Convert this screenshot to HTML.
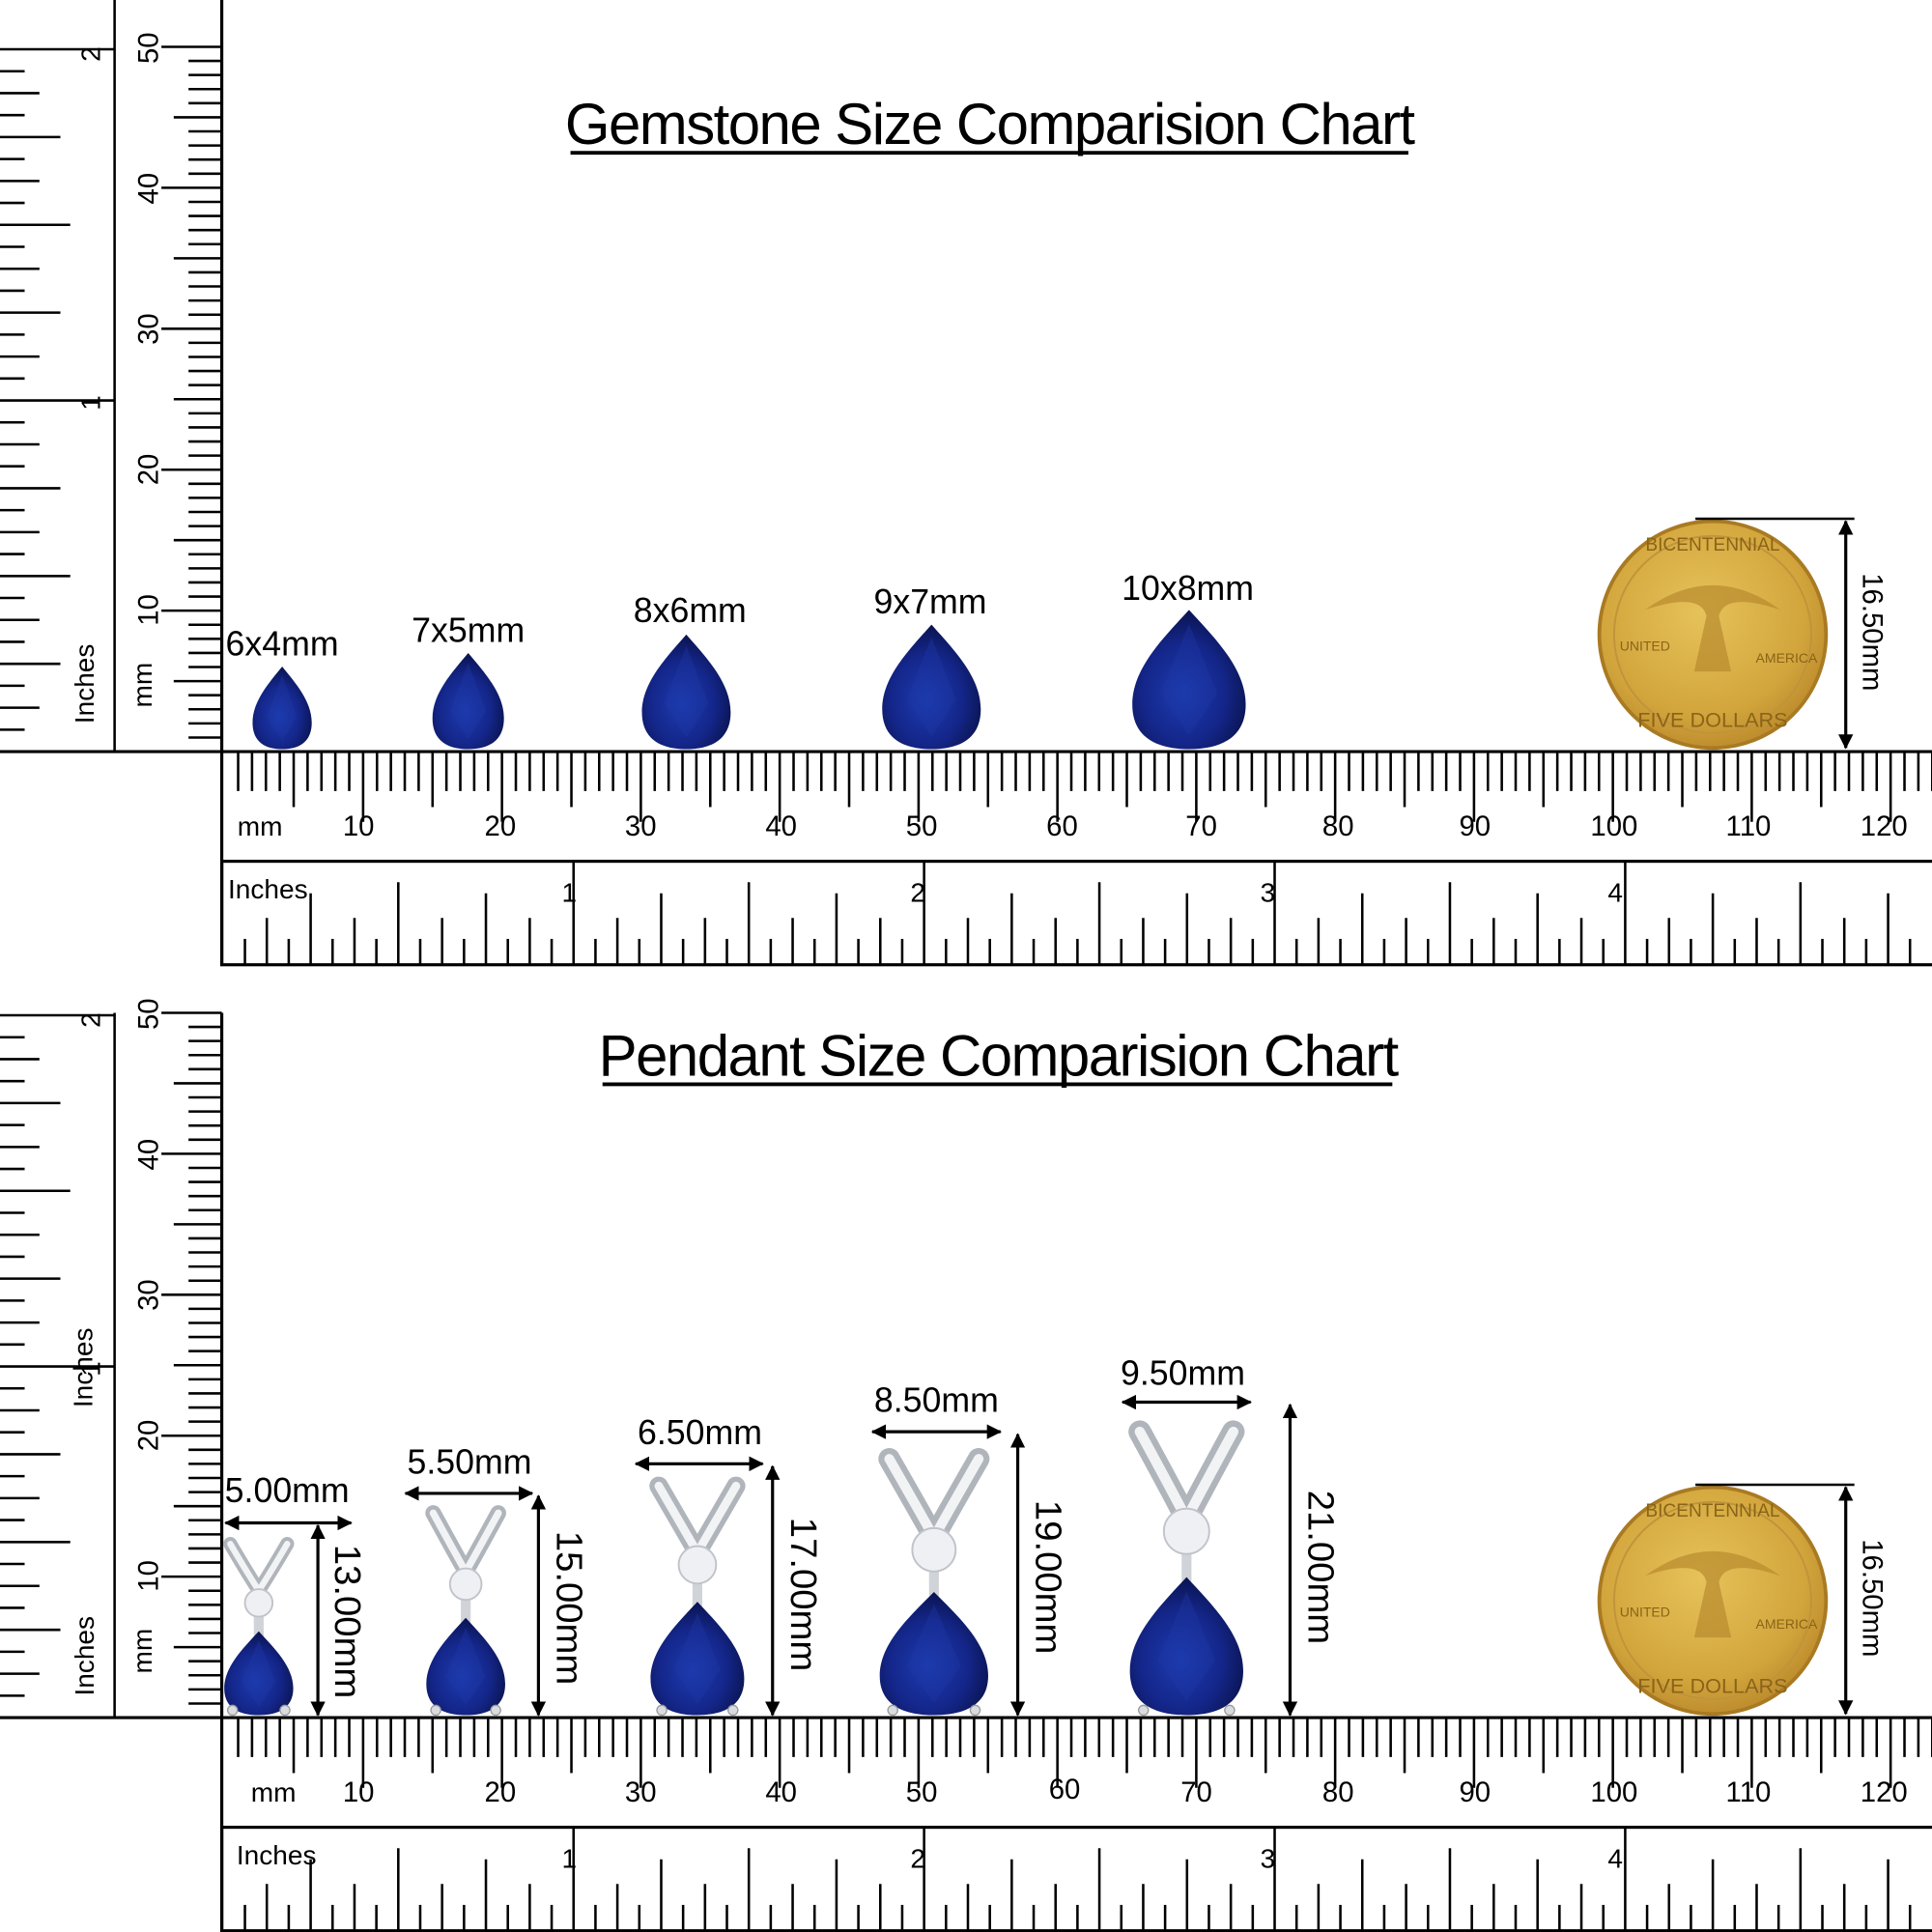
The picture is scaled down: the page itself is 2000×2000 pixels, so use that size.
<!DOCTYPE html>
<html><head><meta charset="utf-8"><style>
html,body{margin:0;padding:0;background:#fff;}
svg{display:block;}
text{font-family:"Liberation Sans",Arial,sans-serif;fill:#000;}
</style></head><body>
<svg id="s" width="2000" height="2000" viewBox="0 0 1568 1568" xmlns="http://www.w3.org/2000/svg">
<defs>
<radialGradient id="gem" cx="0.45" cy="0.6" r="0.6">
<stop offset="0" stop-color="#1c3cb0"/><stop offset="0.6" stop-color="#14268a"/><stop offset="1" stop-color="#0a1450"/>
</radialGradient>
<radialGradient id="gold" cx="0.45" cy="0.4" r="0.65">
<stop offset="0" stop-color="#e6c25a"/><stop offset="0.7" stop-color="#d2a53c"/><stop offset="1" stop-color="#b8862a"/>
</radialGradient>
<linearGradient id="silver" x1="0" x2="1"><stop offset="0" stop-color="#c8ccd2"/><stop offset="0.5" stop-color="#f4f5f7"/><stop offset="1" stop-color="#b4b8be"/></linearGradient>
<marker id="ah" markerWidth="12" markerHeight="12" refX="11" refY="6" orient="auto-start-reverse" markerUnits="userSpaceOnUse"><path d="M0,0 L12,6 L0,12 z" fill="#000"/></marker>
</defs>
<g id="g"></g>
<text x="803" y="117" font-size="47" text-anchor="middle" letter-spacing="-1.2">Gemstone Size Comparision Chart</text>
<line x1="463" y1="124" x2="1143" y2="124" stroke="#000" stroke-width="3"/>
<text x="229" y="532" font-size="28" text-anchor="middle">6x4mm</text>
<text x="380" y="521" font-size="28" text-anchor="middle">7x5mm</text>
<text x="560" y="505" font-size="28" text-anchor="middle">8x6mm</text>
<text x="755" y="498" font-size="28" text-anchor="middle">9x7mm</text>
<text x="964" y="487" font-size="28" text-anchor="middle">10x8mm</text>
<text x="810" y="873" font-size="47" text-anchor="middle" letter-spacing="-1.2">Pendant Size Comparision Chart</text>
<line x1="489" y1="880" x2="1130" y2="880" stroke="#000" stroke-width="3"/>
<text x="233" y="1219" font-size="28" text-anchor="middle">5.00mm</text>
<text x="381" y="1196" font-size="28" text-anchor="middle">5.50mm</text>
<text x="568" y="1172" font-size="28" text-anchor="middle">6.50mm</text>
<text x="760" y="1146" font-size="28" text-anchor="middle">8.50mm</text>
<text x="960" y="1124" font-size="28" text-anchor="middle">9.50mm</text>
<text font-size="30" transform="translate(272,1316) rotate(90)" text-anchor="middle">13.00mm</text>
<text font-size="30" transform="translate(452,1305) rotate(90)" text-anchor="middle">15.00mm</text>
<text font-size="30" transform="translate(642,1294) rotate(90)" text-anchor="middle">17.00mm</text>
<text font-size="30" transform="translate(841,1280) rotate(90)" text-anchor="middle">19.00mm</text>
<text font-size="30" transform="translate(1062,1272) rotate(90)" text-anchor="middle">21.00mm</text>
<text font-size="23" transform="translate(1512,513) rotate(90)" text-anchor="middle">16.50mm</text>
<text font-size="23" transform="translate(1512,1297) rotate(90)" text-anchor="middle">16.50mm</text>
<text font-size="22" transform="translate(75,1110) rotate(-90)" text-anchor="middle">Inches</text>
<g>
<text x="211" y="678" font-size="22" text-anchor="middle">mm</text>
<text x="291" y="678" font-size="23" text-anchor="middle">10</text>
<text x="406" y="678" font-size="23" text-anchor="middle">20</text>
<text x="520" y="678" font-size="23" text-anchor="middle">30</text>
<text x="634" y="678" font-size="23" text-anchor="middle">40</text>
<text x="748" y="678" font-size="23" text-anchor="middle">50</text>
<text x="862" y="678" font-size="23" text-anchor="middle">60</text>
<text x="975" y="678" font-size="23" text-anchor="middle">70</text>
<text x="1086" y="678" font-size="23" text-anchor="middle">80</text>
<text x="1197" y="678" font-size="23" text-anchor="middle">90</text>
<text x="1310" y="678" font-size="23" text-anchor="middle">100</text>
<text x="1419" y="678" font-size="23" text-anchor="middle">110</text>
<text x="1529" y="678" font-size="23" text-anchor="middle">120</text>
<text x="185" y="729" font-size="22">Inches</text>
<text x="462" y="732" font-size="22" text-anchor="middle">1</text>
<text x="745" y="732" font-size="22" text-anchor="middle">2</text>
<text x="1029" y="732" font-size="22" text-anchor="middle">3</text>
<text x="1311" y="732" font-size="22" text-anchor="middle">4</text>
<text font-size="23" transform="translate(128,495) rotate(-90)" text-anchor="middle">10</text>
<text font-size="23" transform="translate(128,381) rotate(-90)" text-anchor="middle">20</text>
<text font-size="23" transform="translate(128,267) rotate(-90)" text-anchor="middle">30</text>
<text font-size="23" transform="translate(128,153) rotate(-90)" text-anchor="middle">40</text>
<text font-size="23" transform="translate(128,39) rotate(-90)" text-anchor="middle">50</text>
<text font-size="22" transform="translate(123,556) rotate(-90)" text-anchor="middle">mm</text>
<text font-size="22" transform="translate(76,555) rotate(-90)" text-anchor="middle">Inches</text>
<text font-size="22" transform="translate(81,327) rotate(-90)" text-anchor="middle">1</text>
<text font-size="22" transform="translate(81,44) rotate(-90)" text-anchor="middle">2</text>
</g>
<g transform="translate(0,784)">
<text x="222" y="678" font-size="22" text-anchor="middle">mm</text>
<text x="291" y="678" font-size="23" text-anchor="middle">10</text>
<text x="406" y="678" font-size="23" text-anchor="middle">20</text>
<text x="520" y="678" font-size="23" text-anchor="middle">30</text>
<text x="634" y="678" font-size="23" text-anchor="middle">40</text>
<text x="748" y="678" font-size="23" text-anchor="middle">50</text>
<text x="864" y="676" font-size="23" text-anchor="middle">60</text>
<text x="971" y="678" font-size="23" text-anchor="middle">70</text>
<text x="1086" y="678" font-size="23" text-anchor="middle">80</text>
<text x="1197" y="678" font-size="23" text-anchor="middle">90</text>
<text x="1310" y="678" font-size="23" text-anchor="middle">100</text>
<text x="1419" y="678" font-size="23" text-anchor="middle">110</text>
<text x="1529" y="678" font-size="23" text-anchor="middle">120</text>
<text x="192" y="729" font-size="22">Inches</text>
<text x="462" y="732" font-size="22" text-anchor="middle">1</text>
<text x="745" y="732" font-size="22" text-anchor="middle">2</text>
<text x="1029" y="732" font-size="22" text-anchor="middle">3</text>
<text x="1311" y="732" font-size="22" text-anchor="middle">4</text>
<text font-size="23" transform="translate(128,495) rotate(-90)" text-anchor="middle">10</text>
<text font-size="23" transform="translate(128,381) rotate(-90)" text-anchor="middle">20</text>
<text font-size="23" transform="translate(128,267) rotate(-90)" text-anchor="middle">30</text>
<text font-size="23" transform="translate(128,153) rotate(-90)" text-anchor="middle">40</text>
<text font-size="23" transform="translate(128,39) rotate(-90)" text-anchor="middle">50</text>
<text font-size="22" transform="translate(123,556) rotate(-90)" text-anchor="middle">mm</text>
<text font-size="22" transform="translate(76,560) rotate(-90)" text-anchor="middle">Inches</text>
<text font-size="22" transform="translate(81,327) rotate(-90)" text-anchor="middle">1</text>
<text font-size="22" transform="translate(81,44) rotate(-90)" text-anchor="middle">2</text>
</g>
<g font-family="Liberation Serif,serif" font-size="11">
<text x="1390" y="447" text-anchor="middle" font-size="15" style="fill:#8a6418">BICENTENNIAL</text>
<text x="1390" y="590" text-anchor="middle" font-size="17" style="fill:#8a6418">FIVE DOLLARS</text>
<text x="1335" y="528" text-anchor="middle" style="fill:#8a6418">UNITED</text>
<text x="1450" y="538" text-anchor="middle" style="fill:#8a6418">AMERICA</text>
<text x="1390" y="1231" text-anchor="middle" font-size="15" style="fill:#8a6418">BICENTENNIAL</text>
<text x="1390" y="1374" text-anchor="middle" font-size="17" style="fill:#8a6418">FIVE DOLLARS</text>
<text x="1335" y="1312" text-anchor="middle" style="fill:#8a6418">UNITED</text>
<text x="1450" y="1322" text-anchor="middle" style="fill:#8a6418">AMERICA</text>
</g>
</svg>
<script>
var g=document.getElementById('g');var h='';
function L(x1,y1,x2,y2,w){h+='<line x1="'+x1+'" y1="'+y1+'" x2="'+x2+'" y2="'+y2+'" stroke="#000" stroke-width="'+(w||2)+'"/>';}
function pear(cx,t,b,w){var hh=b-t,r=w/2;
 h+='<path d="M'+cx+','+t+' C'+(cx+r*0.45)+','+(t+hh*0.2)+' '+(cx+r)+','+(t+hh*0.42)+' '+(cx+r)+','+(t+hh*0.68)+' C'+(cx+r)+','+(t+hh*0.92)+' '+(cx+r*0.55)+','+b+' '+cx+','+b+' C'+(cx-r*0.55)+','+b+' '+(cx-r)+','+(t+hh*0.92)+' '+(cx-r)+','+(t+hh*0.68)+' C'+(cx-r)+','+(t+hh*0.42)+' '+(cx-r*0.45)+','+(t+hh*0.2)+' '+cx+','+t+' Z" fill="url(#gem)"/>';
 h+='<path d="M'+cx+','+(t+hh*0.1)+' L'+(cx-r*0.5)+','+(t+hh*0.6)+' L'+cx+','+(t+hh*0.9)+' L'+(cx+r*0.5)+','+(t+hh*0.6)+' Z" fill="#1f3aa8" opacity="0.35"/>';}
function panel(o){
 var top=o==0?0:822;
 L(0,610+o,1568,610+o,2.5);
 for(var m=0;m<=123;m++){var x=182+11.27*m;var len=m%10==0?57:(m%5==0?45:32);if(m>0)L(x,610+o,x,610+o+len,2);}
 h+='<rect x="180" y="'+(699+o)+'" width="1400" height="84" fill="none" stroke="#000" stroke-width="2.5"/>';
 L(180,610+o,180,783+o,2.5);
 for(var i=1;i<16*5.5;i++){var x=181+284.5*i/16;if(x>1566)break;var len;
  if(i%16==0){L(x,699+o,x,783+o,2);continue;}
  len=i%8==0?67:(i%4==0?58:(i%2==0?38:21));L(x,783+o-len,x,783+o,2);}
 L(93,top,93,610+o,2);L(180,top,180,610+o,2.5);
 for(var m=0;m<=50;m++){var y=610-11.44*m+o;var len=m%10==0?49:(m%5==0?39:27);if(m>0)L(180-len,y,180,y,2);}
 for(var i=1;i<=32;i++){var y=610-285*i/16+o;
  if(i%16==0){L(0,y,93,y,2);continue;}
  var len=i%8==0?57:(i%4==0?49:(i%2==0?32:20));L(0,y,len,y,2);}
 h+='<circle cx="1390" cy="'+(515+o)+'" r="92" fill="url(#gold)" stroke="#a97a22" stroke-width="3"/>';
 h+='<circle cx="1390" cy="'+(515+o)+'" r="80" fill="none" stroke="#c0943a" stroke-width="1.5"/>';
 h+='<path d="M1335,'+(495+o)+' Q1390,'+(455+o)+' 1445,'+(495+o)+' Q1400,'+(480+o)+' 1395,'+(500+o)+' L1405,'+(545+o)+' L1375,'+(545+o)+' L1385,'+(500+o)+' Q1380,'+(480+o)+' 1335,'+(495+o)+' Z" fill="#b88a2e" opacity="0.7"/>';
 L(1376,421+o,1505,421+o,2);
 h+='<line x1="1498" y1="'+(423+o)+'" x2="1498" y2="'+(607+o)+'" stroke="#000" stroke-width="2.5" marker-start="url(#ah)" marker-end="url(#ah)"/>';
}
panel(0);panel(784);
pear(229,541,608,48);pear(380,530,608,58);pear(557,515,608,72);pear(756,507,608,80);pear(965,495,608,92);
function pend(cx,bt,pt,w,ay,ax1,ax2,vx){
 var bw=w*0.55;var dY=pt-(pt-bt)*0.3;
 var p='M'+(cx-bw*0.75)+','+(bt+6)+' Q'+(cx-bw*0.3)+','+(bt+(dY-bt)*0.55)+' '+cx+','+(dY-10)+' Q'+(cx+bw*0.3)+','+(bt+(dY-bt)*0.55)+' '+(cx+bw*0.75)+','+(bt+6);
 h+='<path d="'+p+'" fill="none" stroke="#b0b5bc" stroke-width="'+(w*0.2)+'" stroke-linecap="round"/>';
 h+='<path d="'+p+'" fill="none" stroke="#f2f3f5" stroke-width="'+(w*0.09)+'" stroke-linecap="round"/>';
 h+='<rect x="'+(cx-4)+'" y="'+dY+'" width="8" height="'+(pt-dY+4)+'" fill="#d0d4d8"/>';
 h+='<circle cx="'+cx+'" cy="'+dY+'" r="'+(w*0.2)+'" fill="#eef0f4" stroke="#c0c4ca" stroke-width="1.5"/>';
 pear(cx,pt,1392,w);
 h+='<circle cx="'+(cx-w*0.38)+'" cy="1388" r="4" fill="#d8dce0" stroke="#999" /><circle cx="'+(cx+w*0.38)+'" cy="1388" r="4" fill="#d8dce0" stroke="#999"/>';
 h+='<line x1="'+(ax1+1)+'" y1="'+ay+'" x2="'+(ax2-1)+'" y2="'+ay+'" stroke="#000" stroke-width="2.5" marker-start="url(#ah)" marker-end="url(#ah)"/>';
 h+='<line x1="'+vx+'" y1="'+(ay+2)+'" x2="'+vx+'" y2="1392" stroke="#000" stroke-width="2.5" marker-start="url(#ah)" marker-end="url(#ah)"/>';
}
pend(210,1247,1324,56,1236,182,286,258);
pend(378,1222,1313,64,1212,328,433,437);
pend(566,1200,1300,76,1188,515,620,627);
pend(758,1178,1292,88,1162,707,813,826);
pend(963,1156,1280,92,1138,910,1016,1047);
g.innerHTML=h;
</script>
</body></html>
